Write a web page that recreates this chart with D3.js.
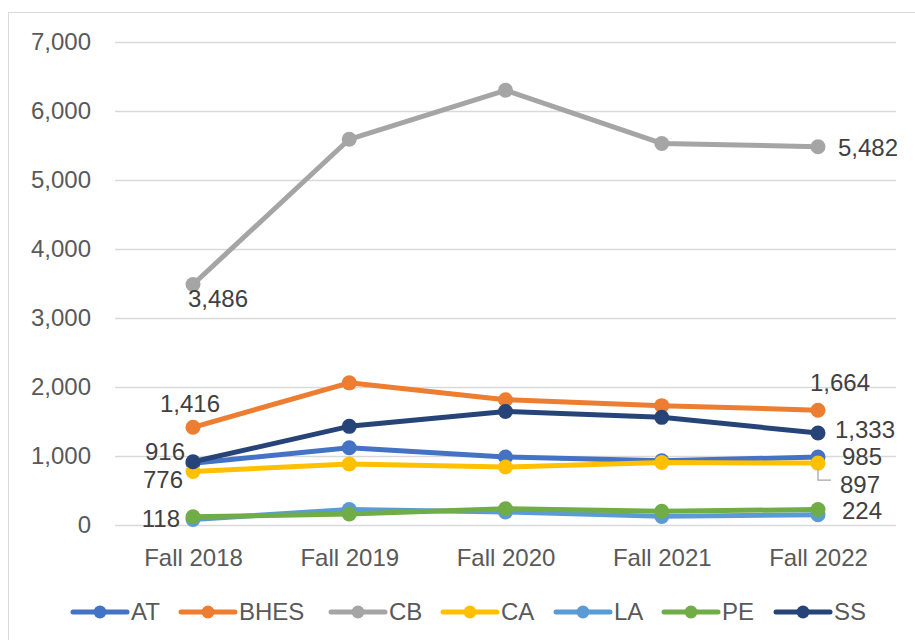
<!DOCTYPE html>
<html><head><meta charset="utf-8">
<script src="https://cdn.jsdelivr.net/npm/d3@7"></script>
<style>body{margin:0;background:#fff}svg{font-family:"Liberation Sans",Arial,sans-serif}</style>
</head><body><svg id="c" width="915" height="640"></svg>
<script>
const categories = ["Fall 2018","Fall 2019","Fall 2020","Fall 2021","Fall 2022"];
const seriesNames = ["AT","BHES","CB","CA","LA","PE","SS"];
const AT   = [895, 1120, 985, 930, 985];
const BHES = [1416, 2060, 1815, 1730, 1664];
const CB   = [3486, 5590, 6300, 5530, 5482];
const CA   = [776, 885, 840, 905, 897];
const LA   = [80, 225, 190, 125, 150];
const PE   = [118, 160, 235, 200, 224];
const SS   = [916, 1430, 1645, 1560, 1333];
const yTicks = [0,1000,2000,3000,4000,5000,6000,7000];
const colors = ["#4472C4","#ED7D31","#A5A5A5","#FFC000","#5B9BD5","#70AD47","#264478"];
const values = [AT,BHES,CB,CA,LA,PE,SS];
// data labels: [series, index, dx, dy, anchor]
const labels = [
  ["BHES",0,-3,-24,"middle"],["SS",0,-8,-10,"end"],["CA",0,-10,8,"end"],["PE",0,-13,2,"end"],["CB",0,-5,14,"start"],
  ["CB",4,20,1,"start"],["BHES",4,22,-28,"middle"],["SS",4,17,-3,"start"],["AT",4,24,0,"start"],["CA",4,22,21,"start"],["PE",4,24,1,"start"]
];

const svg = d3.select("#c");
svg.append("rect").attr("x",8.5).attr("y",12.5).attr("width",915).attr("height",640)
  .attr("fill","none").attr("stroke","#d9d9d9");

const x = d3.scalePoint().domain(categories).range([193,818]);
const y = d3.scaleLinear().domain([0,7000]).range([525,42]);

const g = svg.append("g");
g.selectAll("line.grid").data(yTicks).join("line").attr("class","grid")
  .attr("x1",115).attr("x2",896).attr("y1",d=>Math.round(y(d))+0.5).attr("y2",d=>Math.round(y(d))+0.5)
  .attr("stroke","#d9d9d9").attr("stroke-width",1.5);

const yAxis = d3.axisLeft(y).tickValues(yTicks).tickFormat(d3.format(",")).tickSize(0).tickPadding(0);
svg.append("g").attr("transform","translate(91,0)").call(yAxis)
  .call(a=>a.select(".domain").remove())
  .selectAll("text").attr("font-size",24).attr("fill","#595959").attr("font-family","Liberation Sans, Arial, sans-serif");

const xAxis = d3.axisBottom(x).tickSize(0).tickPadding(0);
svg.append("g").attr("transform","translate(0,549)").call(xAxis)
  .call(a=>a.select(".domain").remove())
  .selectAll("text").attr("font-size",24).attr("fill","#595959").attr("dy","0.71em").attr("font-family","Liberation Sans, Arial, sans-serif");

const line = d3.line().x((d,i)=>x(categories[i])).y(d=>y(d));
seriesNames.forEach((s,k)=>{
  const sg = svg.append("g");
  sg.append("path").datum(values[k]).attr("d",line).attr("fill","none")
    .attr("stroke",colors[k]).attr("stroke-width",5).attr("stroke-linejoin","round").attr("stroke-linecap","round");
  sg.selectAll("circle").data(values[k]).join("circle")
    .attr("cx",(d,i)=>x(categories[i])).attr("cy",d=>y(d)).attr("r",7.5).attr("fill",colors[k]);
});

// leader line for CA last label
const lx = x(categories[4]), ly = y(CA[4]);
svg.append("path").attr("d",`M${lx},${ly+6} V${ly+17} H${lx+13}`).attr("fill","none").attr("stroke","#a6a6a6").attr("stroke-width",1.3);

labels.forEach(([s,i,dx,dy,anchor])=>{
  const k = seriesNames.indexOf(s);
  svg.append("text").attr("x",x(categories[i])+dx).attr("y",y(values[k][i])+dy)
    .attr("dy","0.35em").attr("text-anchor",anchor).attr("font-size",24).attr("fill","#404040")
    .text(d3.format(",")(values[k][i]));
});

// legend
const legX = [73,181,331,443,556,664,776];
const lg = svg.append("g");
seriesNames.forEach((s,k)=>{
  const gx = legX[k], gy = 612;
  lg.append("line").attr("x1",gx).attr("x2",gx+54).attr("y1",gy).attr("y2",gy)
    .attr("stroke",colors[k]).attr("stroke-width",5).attr("stroke-linecap","round");
  lg.append("circle").attr("cx",gx+27).attr("cy",gy).attr("r",6.5).attr("fill",colors[k]);
  lg.append("text").attr("x",gx+58).attr("y",gy).attr("dy","0.35em").attr("font-size",24)
    .attr("fill","#595959").text(s);
});
</script></body></html>
